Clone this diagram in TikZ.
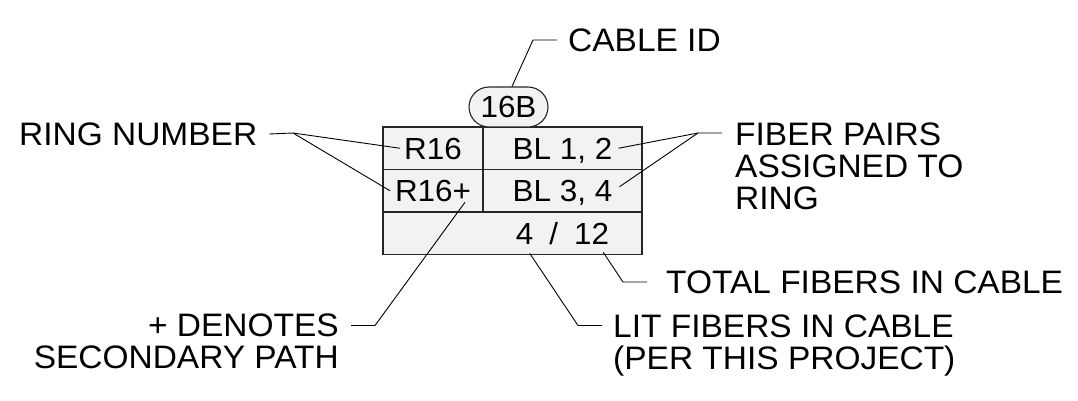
\documentclass[tikz,border=0pt]{standalone}
\usepackage{fontspec}
\setmainfont[FakeStretch=1.03]{Liberation Sans}
\usetikzlibrary{shapes.misc}
\definecolor{cellgray}{HTML}{F2F2F2}
\begin{document}
\begin{tikzpicture}[x=1pt,y=-1pt,
  every node/.style={inner sep=0pt,font=\fontsize{32.5}{32}\selectfont},
  cell/.style={draw=black!85,fill=cellgray,line width=1.1pt,minimum height=42.5,
    font=\fontsize{30.5}{32}\selectfont,text height=21.8,text depth=0pt},
  tag/.style={cell,rounded rectangle,minimum width=79,minimum height=40},
  leader/.style={line width=.9pt}]
\useasboundingbox (0,0) rectangle (1078,401);
% table
\node[cell,minimum width=259] (litrow) at (512.5,233.25) {};
\node[cell,minimum width=100] (ra) at (433,148.25) {R16};
\node[cell,minimum width=100] (rb) at (433,190.75) {R16+};
\node[cell,minimum width=159] (pa) at (562.5,148.25) {BL 1, 2};
\node[cell,minimum width=159] (pb) at (562.5,190.75) {BL 3, 4};
\node[font=\fontsize{30.5}{32}\selectfont,text height=21.8,text depth=0pt]
  (fibcount) at (562.5,233.25) {4\hspace{16pt}/\hspace{16pt}12};
\node[tag] (cid) at (508.5,107) {16B};
% labels
\node[anchor=west] (cableid) at (568,40) {CABLE ID};
\node[anchor=west] (ringno) at (19,134) {RING NUMBER};
\node[anchor=north west,align=left] (pairs) at (735,122.5) {FIBER PAIRS\\ASSIGNED TO\\RING};
\node[anchor=north east,align=right] (denotes) at (339,313.5) {+ DENOTES\\SECONDARY PATH};
\node[anchor=west] (total) at (666,282) {TOTAL FIBERS IN CABLE};
\node[anchor=north west,align=left] (lit) at (613,314.5) {LIT FIBERS IN CABLE\\(PER THIS PROJECT)};
% leaders
\coordinate (ringfork) at (293,133);
\coordinate (pairfork) at (698,133);
\draw[leader] ([xshift=-11pt]cableid.west) -- ++(-24,0) -- ([xshift=3.5pt]cid.north);
\draw[leader] ([xshift=12pt]ringno.east) -- (ringfork) -- ([xshift=-33pt]ra.center);
\draw[leader] (ringfork) -- ([xshift=-43pt]rb.center);
\draw[leader] ([xshift=-13pt]pairs.north west |- pairfork) -- (pairfork)
  -- ([xshift=56pt]pa.center);
\draw[leader] (pairfork) -- ([xshift=57pt,yshift=4pt]pb.center);
\draw[leader] ([shift={(12pt,-12pt)}]denotes.north east) -- ++(24,0)
  -- ([shift={(32pt,-11.5pt)}]rb.center);
\draw[leader] ([xshift=-19pt]total.west) -- ++(-24,0)
  -- ([shift={(-6pt,-8pt)}]fibcount.south east);
\draw[leader] ([shift={(-11pt,-11pt)}]lit.north west) -- ++(-24,0)
  -- ([shift={(14pt,-9pt)}]fibcount.south west);
\end{tikzpicture}
\end{document}
